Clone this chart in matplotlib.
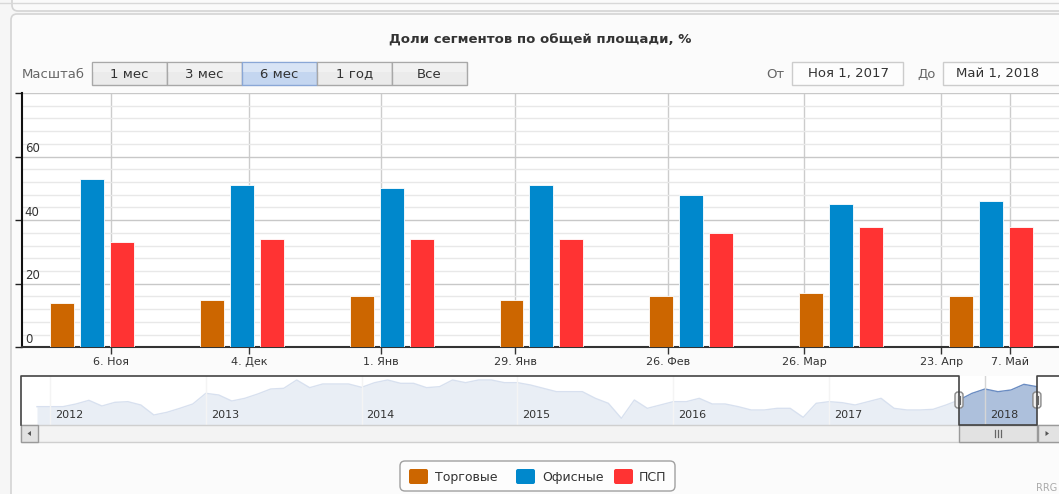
import numpy as np
import matplotlib.pyplot as plt
from matplotlib.patches import Rectangle, FancyBboxPatch, Polygon
from matplotlib.lines import Line2D

W, H = 1059, 494

# data
months = ['Ноя 2017', 'Дек 2017', 'Янв 2018', 'Фев 2018', 'Мар 2018', 'Апр 2018', 'Май 2018']
trade = [14, 15, 16, 15, 16, 17, 16]
office = [53, 51, 50, 51, 48, 45, 46]
psp = [33, 34, 34, 34, 36, 38, 38]

series_names = ['Торговые', 'Офисные', 'ПСП']
series_colors = ['#cc6600', '#0088cc', '#ff3333']

tick_labels = ['6. Ноя', '4. Дек', '1. Янв', '29. Янв', '26. Фев', '26. Мар', '23. Апр', '7. Май']
tick_pos = [0.127, 1.048, 1.929, 2.823, 3.843, 4.754, 5.667, 6.127]

# navigator series, monthly Dec 2011 .. May 2018
nav_values = [55, 55, 55, 63, 74, 57, 68, 70, 60, 30, 38, 50,
              63, 95, 90, 72, 80, 93, 108, 110, 135, 112, 123, 123,
              123, 113, 127, 135, 125, 125, 112, 115, 135, 127, 135, 135,
              127, 127, 120, 110, 100, 100, 100, 80, 65, 20, 75, 50,
              60, 70, 70, 80, 63, 63, 55, 45, 45, 50, 50, 23,
              65, 70, 67, 60, 70, 80, 50, 45, 45, 47, 60, 75,
              95, 108, 100, 105, 122, 115]
nav_years = ['2012', '2013', '2014', '2015', '2016', '2017', '2018']
sel_from, sel_to = 71, 77   # Nov 2017 .. May 2018

buttons = ['1 мес', '3 мес', '6 мес', '1 год', 'Все']
active_button = 2

plt.rcParams['font.family'] = ['DejaVu Sans']
fig = plt.figure(figsize=(W / 100, H / 100), dpi=100)
fig.patch.set_facecolor('#f6f6f6')


def frac(x0, y0, x1, y1):
    return [x0 / W, 1 - y1 / H, (x1 - x0) / W, (y1 - y0) / H]


# background panels
bg = fig.add_axes([0, 0, 1, 1], zorder=0)
bg.set_xlim(0, W)
bg.set_ylim(H, 0)
bg.axis('off')
bg.plot([0, W], [3, 3], color='#d8d8d8', lw=1)
bg.add_patch(FancyBboxPatch((12, -40), W + 40, 51, boxstyle='round,pad=0,rounding_size=6',
                            fc='#fafafa', ec='#d4d4d4', lw=1.2))
bg.add_patch(FancyBboxPatch((11, 14), W + 40, H + 40, boxstyle='round,pad=0,rounding_size=6',
                            fc='#fbfbfb', ec='#d4d4d4', lw=1.2))

# main chart
ax = fig.add_axes(frac(22, 93, W, 347.3), zorder=1)
ax.set_facecolor('white')
x = np.arange(len(months))
for k, (vals, name, col) in enumerate(zip([trade, office, psp], series_names, series_colors)):
    ax.bar(x + (k - 1) * 0.2, vals, width=0.16, color=col, edgecolor='white',
           linewidth=0.6, zorder=3, label=name)
ax.set_xlim(-0.467, 6.454)
ax.set_ylim(0, 80)
ax.set_axisbelow(True)
ax.set_yticks(range(0, 81, 20))
ax.set_yticks(range(0, 81, 4), minor=True)
ax.set_yticklabels([])
ax.grid(axis='y', which='minor', color='#e8e8e8', lw=1)
ax.grid(axis='y', which='major', color='#c8c8c8', lw=1)
ax.tick_params(axis='y', which='major', direction='out', length=5, width=1, color='#222')
ax.tick_params(axis='y', which='minor', length=0)
ax.set_xticks(tick_pos)
ax.set_xticklabels(tick_labels, fontsize=8, color='#333333')
ax.tick_params(axis='x', direction='out', length=5, width=1, color='#333', pad=2)
ax.grid(axis='x', color='#cccccc', lw=1)
for s in ['top', 'right']:
    ax.spines[s].set_visible(False)
ax.spines['left'].set_color('#111111')
ax.spines['left'].set_linewidth(1.5)
ax.spines['bottom'].set_color('#333333')
ax.spines['bottom'].set_linewidth(1.5)
for v in [0, 20, 40, 60]:
    ax.annotate(str(v), xy=(0, v), xycoords=('axes fraction', 'data'), xytext=(2, 1),
                textcoords='offset points', ha='left', va='bottom', fontsize=8.5, color='#333333')

# navigator
nav_lo, nav_hi = -1.23, 78.7
nav = fig.add_axes(frac(21, 376, W, 425), zorder=1)
nav.set_facecolor('white')
m = np.arange(len(nav_values))
nav.fill_between(m, nav_values, color='#adc0dc', lw=0, zorder=1)
nav.plot(m, nav_values, color='#6a8cc2', lw=1, zorder=1.5)
for j, yr in enumerate(nav_years):
    xm = 1 + 12 * j
    nav.axvline(xm, color='#d6d6d6', lw=1, zorder=1.8)
    nav.text(xm + 0.38, 30, yr, ha='left', va='center', fontsize=8, color='#333333', zorder=4)
nav.axvspan(nav_lo, sel_from, color='white', alpha=0.74, lw=0, zorder=2)
nav.axvspan(sel_to, nav_hi, color='white', alpha=0.74, lw=0, zorder=2)
nav.set_xlim(nav_lo, nav_hi)
nav.set_ylim(0, 147)
nav.set_xticks([])
nav.set_yticks([])
for s in nav.spines.values():
    s.set_visible(False)


def nav_px(v):
    return 21 + (v - nav_lo) / (nav_hi - nav_lo) * (W - 21)


# overlay with controls
ui = fig.add_axes([0, 0, 1, 1], zorder=3)
ui.set_xlim(0, W)
ui.set_ylim(H, 0)
ui.axis('off')

ui.text(540, 40, 'Доли сегментов по общей площади, %', ha='center', va='center',
        fontsize=9.5, fontweight='bold', color='#333333')

ui.text(22, 74, 'Масштаб', ha='left', va='center', fontsize=9.5, color='#666666')
edges = [92, 167, 242, 317, 392, 467]
for i, lab in enumerate(buttons):
    x0, x1 = edges[i], edges[i + 1]
    if i == active_button:
        fc, ec = '#c4d6f0', '#8aa7d6'
    else:
        fc, ec = '#ebebeb', '#a8a8a8'
    ui.add_patch(Rectangle((x0, 62), x1 - x0, 23, fc=fc, ec=ec, lw=1))
    ui.add_patch(Rectangle((x0 + 1, 63), x1 - x0 - 2, 9, fc='white', ec='none', alpha=0.35))
    ui.text((x0 + x1) / 2, 74, lab, ha='center', va='center', fontsize=9.5, color='#333333')

ui.text(775, 74, 'От', ha='center', va='center', fontsize=9.5, color='#666666')
ui.add_patch(Rectangle((792, 62), 111, 23, fc='#fdfdfd', ec='#cccccc', lw=1))
ui.text(848, 74, 'Ноя 1, 2017', ha='center', va='center', fontsize=9.5, color='#333333')
ui.text(927, 74, 'До', ha='center', va='center', fontsize=9.5, color='#666666')
ui.add_patch(Rectangle((943, 62), 140, 23, fc='#fdfdfd', ec='#cccccc', lw=1))
ui.text(998, 74, 'Май 1, 2018', ha='center', va='center', fontsize=9.5, color='#333333')

# scrollbar
s0, s1 = nav_px(sel_from), nav_px(sel_to)
ui.add_patch(Rectangle((21, 425), W, 17, fc='#f3f3f3', ec='#cfcfcf', lw=1))
ui.add_patch(Rectangle((21, 425), 17, 17, fc='#e2e2e2', ec='#9a9a9a', lw=1))
ui.add_patch(Polygon([[27.5, 433.5], [31, 431], [31, 436]], closed=True, fc='#555555', ec='none'))
ui.add_patch(Rectangle((1038, 425), 30, 17, fc='#e2e2e2', ec='#9a9a9a', lw=1))
ui.add_patch(Polygon([[1049, 433.5], [1045.5, 431], [1045.5, 436]], closed=True, fc='#555555', ec='none'))
ui.add_patch(Rectangle((s0, 425), s1 - s0, 17, fc='#e2e2e2', ec='#9a9a9a', lw=1))
cx = (s0 + s1) / 2
for d in [-3, 0, 3]:
    ui.plot([cx + d, cx + d], [430, 437], color='#666666', lw=0.9)

# navigator outline and handles
ui.add_line(Line2D([21, 21, s0, s0, s1, s1, W], [425, 376, 376, 425, 425, 376, 376],
                   color='#444444', lw=1.2))
for hx in [s0, s1]:
    ui.add_patch(FancyBboxPatch((hx - 4, 392), 8, 16, boxstyle='round,pad=0,rounding_size=3',
                                fc='#f2f2f2', ec='#888888', lw=1))
    ui.plot([hx - 1, hx - 1], [396, 404], color='#666666', lw=0.8)
    ui.plot([hx + 1, hx + 1], [396, 404], color='#666666', lw=0.8)

# legend
ui.add_patch(FancyBboxPatch((400, 461), 275, 30, boxstyle='round,pad=0,rounding_size=5',
                            fc='#fdfdfd', ec='#a0a0a0', lw=1))
legend_x = [(409, 435), (516, 542), (614, 639)]
for (bx, tx), name, col in zip(legend_x, series_names, series_colors):
    ui.add_patch(FancyBboxPatch((bx, 469), 19, 15, boxstyle='round,pad=0,rounding_size=2',
                                fc=col, ec='none'))
    ui.text(tx, 477, name, ha='left', va='center', fontsize=9, color='#333333')

ui.text(1036, 493, 'RRG', ha='left', va='bottom', fontsize=7, color='#aaaaaa')

fig.savefig('out.png', dpi=100, facecolor=fig.get_facecolor())
